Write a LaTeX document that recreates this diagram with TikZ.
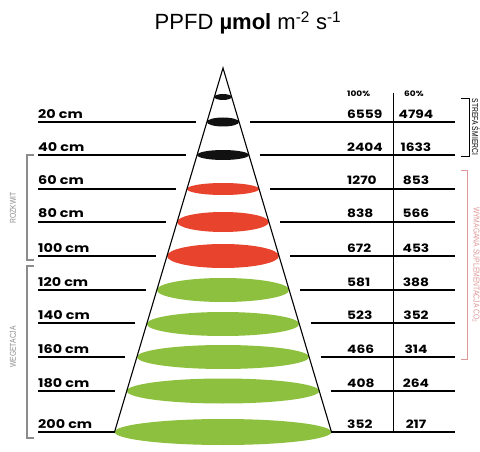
\documentclass[tikz,border=0pt]{standalone}
\usepackage{fontspec}
\usepackage{tikz}
\setmainfont{Liberation Sans}
\newfontfamily\labelfont[FakeStretch=1.2]{Poppins}
\newfontfamily\thinfont[FakeStretch=0.8]{Liberation Sans}
\definecolor{redspot}{RGB}{232,67,45}
\definecolor{greenspot}{RGB}{141,192,62}
\definecolor{darkspot}{RGB}{17,17,17}
\definecolor{graybracket}{RGB}{140,140,140}
\definecolor{pinkbracket}{RGB}{222,150,150}
\tikzset{
  rowline/.style={black,line width=1.6pt},
  rowlabel/.style={anchor=base west,inner sep=0pt,font=\labelfont\bfseries\fontsize{12}{13}\selectfont},
  rownum/.style={anchor=base west,inner sep=0pt,font=\labelfont\bfseries\fontsize{11.5}{12}\selectfont},
  headnum/.style={anchor=base west,inner sep=0pt,font=\labelfont\bfseries\fontsize{7.5}{8}\selectfont},
  sidelabel/.style={inner sep=0pt,font=\thinfont\fontsize{8.5}{9}\selectfont}
}

\begin{document}
\begin{tikzpicture}[x=1pt,y=-1pt]
\useasboundingbox (0,0) rectangle (480,452);
	\newcommand \apexX{223}
	\newcommand \apexY{68}
	\newcommand \baseY{432}
	\newcommand \spread{0.298}
	\newcommand \leftX{38}
	\newcommand \rightX{455}
	\newcommand \colA{347}
	\newcommand \colB{416}
	\newcommand \sepX{393}

%% Title
\node[anchor=base] (title) at (248,30) {\fontsize{22}{24}\selectfont PPFD \textbf{µmol} m\textsuperscript{-2} s\textsuperscript{-1}};

%% Light spots in the cone
\foreach \y/\ry/\c in {97/3/darkspot,122/4.5/darkspot,155/5/darkspot,189/6/redspot,222/10/redspot,256/12/redspot,290/12/greenspot,324/12/greenspot,357/12/greenspot,391/12.5/greenspot,432/13/greenspot}
{
\fill[\c] (\apexX,\y) ellipse ({(\y-\apexY)*\spread} and \ry);
}

\draw[line width=1.1pt] ({\apexX-(\baseY-\apexY)*\spread},\baseY) -- (\apexX,\apexY) -- ({\apexX+(\baseY-\apexY)*\spread},\baseY);

%% Rows: distance and PPFD at 100% and 60%
\foreach \y/\lab/\va/\vb/\g in {122/20 cm/6559/4794/11,155/40 cm/2404/1633/11,189/60 cm/1270/853/11,222/80 cm/838/566/11,256/100 cm/672/453/11,290/120 cm/581/388/11,323/140 cm/523/352/12,357/160 cm/466/314/12,391/180 cm/408/264/12,432/200 cm/352/217/0}
{
\draw[rowline] (\leftX,\y) -- ({\apexX-(\y-\apexY)*\spread-\g},\y);
\draw[rowline] ({\apexX+(\y-\apexY)*\spread+\g},\y) -- (\rightX,\y);
\node[rowlabel] (dist\y) at (\leftX,\y-4) {\lab};
\node[rownum] (full\y) at (\colA,\y-4) {\va};
\node[rownum,anchor=base] (part\y) at (\colB,\y-4) {\vb};
}

\node[headnum] (head100) at (\colA,97) {100\%};
\node[headnum] (head60) at (404,97) {60\%};
\draw[line width=0.8pt] (\sepX,93) -- (\sepX,\baseY);

%% Brackets
\draw[graybracket,line width=1.2pt] (34,155) -- (27,155) -- (27,260) -- (34,260);
\node[sidelabel,graybracket,rotate=90] (bloom) at (13,208) {ROZKWIT};
\draw[graybracket,line width=1.2pt] (34,266) -- (27,266) -- (27,438) -- (34,438);
\node[sidelabel,graybracket,rotate=90] (growth) at (13,347) {WEGETACJA};

\draw[black,line width=0.9pt] (461,98) -- (469,98) -- (469,156) -- (461,156);
\node[sidelabel,black,rotate=-90] (death) at (476,127) {STREFA ŚMIERCI};
\draw[pinkbracket,line width=1pt] (461,170) -- (467,170) -- (467,359) -- (461,359);
\node[sidelabel,pinkbracket,rotate=-90] (cotwo) at (476,265) {WYMAGANA SUPLEMENTACJA CO\textsubscript{2}};

\end{tikzpicture}
\end{document}
